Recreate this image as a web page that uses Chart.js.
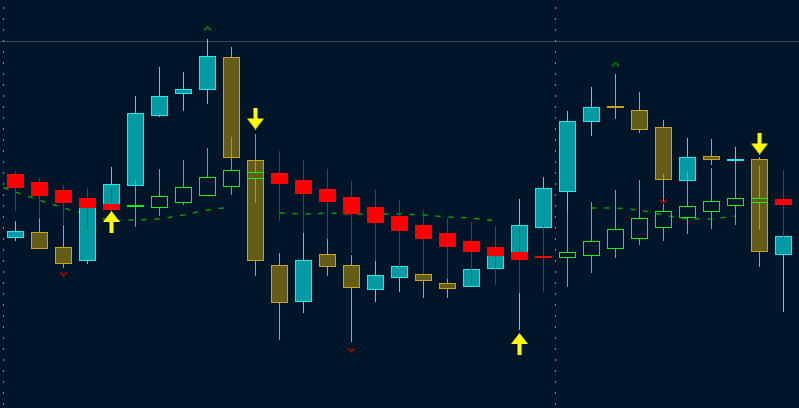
<!DOCTYPE html>
<html><head><meta charset="utf-8">
<script src="https://cdn.jsdelivr.net/npm/chart.js@4.4.1/dist/chart.umd.min.js"></script>
<style>html,body{margin:0;padding:0;background:#011529;overflow:hidden}canvas{display:block}</style>
</head><body>
<canvas id="c" width="799" height="408"></canvas>
<script>
// bar index (categories)
const bars = [0,1,2,3,4,5,6,7,8,9,10,11,12,13,14,15,16,17,18,19,20,21,22,23,24,25,26,27,28,29,30,31,32];

// price candles
const priceOpen  = [170,176,161,147,202,222,292,314,318,351,248,143,106,154,143,118,130,134,125,121,139,149,180,216,286,302,298,281,227,252,247,249,153];
const priceHigh  = [187,190,183,209,241,312,341,336,369,361,249,155,175,169,153,147,146,140,129,146,168,209,231,297,321,334,316,288,270,269,261,251,182];
const priceLow   = [167,159,140,144,200,220,291,297,304,250,132, 68, 95,132, 66,106,116,110,110,121,139, 78,178,195,272,289,275,226,225,243,245,141, 96];
const priceClose = [177,159,144,204,224,295,312,319,352,250,147,105,148,141,120,133,142,127,119,139,159,183,220,287,301,300,278,228,251,248,249,156,172];

// trend candles (overlay)
const trendOpen  = [234,226,218,210,204,201,200,205,212,221,229,235,228,219,211,201,192,183,175,167,161,156,152,150,152,159,169,180,190,196,202,205,209];
const trendHigh  = [237,230,223,220,220,228,239,248,260,271,274,257,248,239,227,218,208,198,190,186,182,181,184,195,206,218,228,234,237,240,245,242,238];
const trendLow   = [197,191,184,178,196,181,192,203,212,213,205,187,175,169,155,147,141,134,129,125,123,115,116,121,135,150,163,167,174,179,183,178,169];
const trendClose = [220,212,205,200,198,203,212,221,231,238,236,224,214,206,194,185,177,169,161,156,152,148,150,156,167,179,190,197,202,207,210,210,203];

// dashed average
const avgPrior = 225;
const avgValue = [216,208,200,193,187,188,189,193,198,201,null,195,194,195,194,194,194,193,191,190,187,null,null,null,200,200,198,193,189,189,192,null,null];

// signals
const buyBars = [4,21];     const buyValues = [186,64];
const sellBars = [10,31];   const sellValues = [289.5,264.5];
const peakBars = [8,25];    const peakValues = [379.5,344];
const troughBars = [2,14,27]; const troughValues = [134,58,206.5];

// levels / separators
const levelValue = 366.5;
const sessionBreaks = [-0.5, 22.5];

const CY_FILL='#009aa2', CY_LINE='#22e8f0', OL_FILL='#655c17', OL_LINE='#c9a21f';
const RED='#ff0000', RED_W='#e80000', GRN='#14f014';

function mk(w,h,fn){const c=document.createElement('canvas');c.width=w;c.height=h;const x=c.getContext('2d');fn(x);return c;}
const upArrow = mk(17,22,x=>{x.fillStyle='#ffff00';x.beginPath();x.moveTo(8.5,0);x.lineTo(17,11);x.lineTo(0,11);x.closePath();x.fill();x.fillRect(6.5,11,4,11);});
const downArrow = mk(17,22,x=>{x.fillStyle='#ffff00';x.fillRect(6.5,0,4,11);x.beginPath();x.moveTo(0,11);x.lineTo(17,11);x.lineTo(8.5,22);x.closePath();x.fill();});
const peakMark = mk(9,5,x=>{x.strokeStyle='#0a6a12';x.lineWidth=2;x.beginPath();x.moveTo(1,4.5);x.lineTo(4.5,1);x.lineTo(8,4.5);x.stroke();});
const troughMark = mk(9,5,x=>{x.strokeStyle='#8a0c0c';x.lineWidth=2;x.beginPath();x.moveTo(1,0.5);x.lineTo(4.5,4);x.lineTo(8,0.5);x.stroke();});

const up = i => priceClose[i] >= priceOpen[i];
const tup = i => trendClose[i] >= trendOpen[i];

const barCommon = {type:'bar', grouped:false, borderSkipped:false, inflateAmount:0};

const datasets = [
  {type:'line', order:20, data:[{x:-1,y:levelValue},{x:34,y:levelValue}], borderColor:'#3b4955', borderWidth:1, pointRadius:0},
  ...sessionBreaks.map(b=>({type:'line', order:19, data:[{x:b,y:408},{x:b,y:0}], borderColor:'#8a8a8a', borderWidth:1, borderDash:[2,9], borderDashOffset:4, pointRadius:0})),
  {type:'line', order:18, data:[{x:-1,y:avgPrior}, ...bars.map(i=>({x:i,y:avgValue[i]}))], borderColor:'rgba(0,205,0,0.75)', borderWidth:1.5, borderDash:[5,8], pointRadius:0, spanGaps:false, tension:0},
  {...barCommon, order:17, barThickness:1, borderWidth:0,
    data:bars.map(i=>({x:i,y:[priceLow[i],priceHigh[i]]})),
    backgroundColor:c=>up(c.dataIndex)?CY_LINE:OL_LINE},
  {...barCommon, order:16, barThickness:17, borderWidth:1,
    data:bars.map(i=>({x:i,y:[priceOpen[i],priceClose[i]]})),
    backgroundColor:c=>up(c.dataIndex)?CY_FILL:OL_FILL,
    borderColor:c=>up(c.dataIndex)?CY_LINE:OL_LINE},
  {...barCommon, order:15, barThickness:1, borderWidth:0,
    data:bars.map(i=>({x:i,y:[Math.max(trendOpen[i],trendClose[i]),trendHigh[i]]})),
    backgroundColor:c=>tup(c.dataIndex)?GRN:RED_W},
  {...barCommon, order:15, barThickness:1, borderWidth:0,
    data:bars.map(i=>({x:i,y:[trendLow[i],Math.min(trendOpen[i],trendClose[i])]})),
    backgroundColor:c=>tup(c.dataIndex)?GRN:RED_W},
  {...barCommon, order:14, barThickness:17, borderWidth:1,
    data:bars.map(i=>({x:i,y:[trendOpen[i],trendClose[i]]})),
    backgroundColor:c=>tup(c.dataIndex)?'rgba(0,0,0,0)':RED,
    borderColor:c=>tup(c.dataIndex)?GRN:RED},
  {type:'scatter', order:3, data:buyBars.map((b,k)=>({x:b,y:buyValues[k]})), pointStyle:upArrow, pointRadius:5},
  {type:'scatter', order:3, data:sellBars.map((b,k)=>({x:b,y:sellValues[k]})), pointStyle:downArrow, pointRadius:5},
  {type:'scatter', order:2, data:peakBars.map((b,k)=>({x:b,y:peakValues[k]})), pointStyle:peakMark, pointRadius:5},
  {type:'scatter', order:2, data:troughBars.map((b,k)=>({x:b,y:troughValues[k]})), pointStyle:troughMark, pointRadius:5}
];

new Chart(document.getElementById('c'), {
  type:'bar',
  data:{datasets},
  options:{
    responsive:false, animation:false, devicePixelRatio:1, events:[],
    layout:{padding:0, autoPadding:false},
    plugins:{legend:{display:false}, tooltip:{enabled:false}},
    scales:{
      x:{type:'linear', min:-0.6458, max:32.6458, offset:false, display:false, grid:{display:false}},
      y:{type:'linear', min:0, max:408, display:false, grid:{display:false}}
    }
  }
});
</script>
</body></html>
